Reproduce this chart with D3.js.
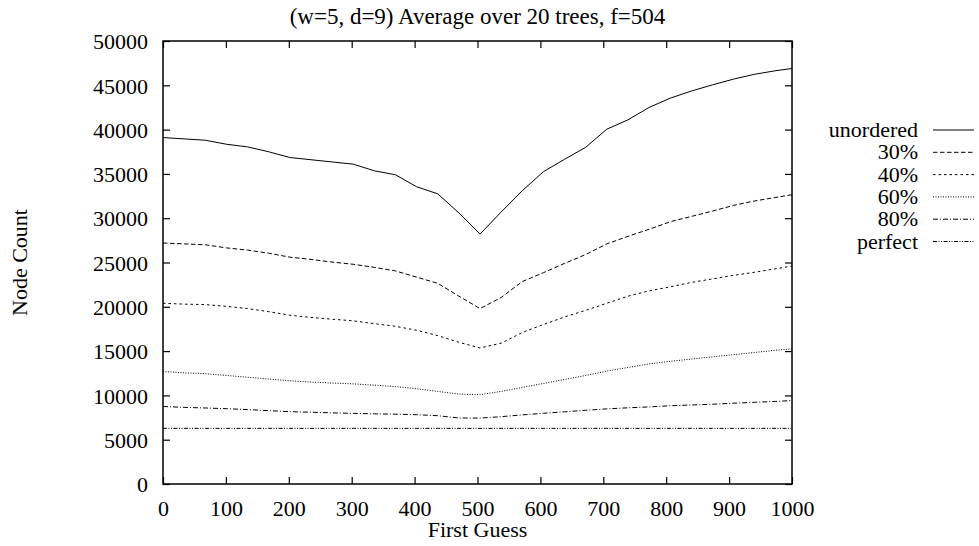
<!DOCTYPE html>
<html><head><meta charset="utf-8">
<script src="https://cdn.jsdelivr.net/npm/d3@7"></script>
<style>
body{margin:0;background:#fff}
text{font-family:"Liberation Serif","Times New Roman",serif;fill:#000}
</style>
</head><body>
<svg id="chart" width="979" height="546"></svg>
<script>
// ---- data ----
const firstGuess = [0, 33.6, 67.2, 100.8, 134.4, 168, 201.6, 235.2, 268.8, 302.4, 336, 369.6, 403.2, 436.8, 470.4, 504,
  537.6, 571.2, 604.8, 638.4, 672, 705.6, 739.2, 772.8, 806.4, 840, 873.6, 907.2, 940.8, 974.4, 1000];
const unordered = [39100, 38950, 38800, 38350, 38050, 37500, 36850, 36600, 36350, 36100, 35350, 34900, 33550, 32750, 30600, 28200,
  30700, 33100, 35250, 36650, 38000, 40050, 41100, 42500, 43550, 44350, 45050, 45700, 46250, 46650, 46900];
const pct30 = [27200, 27100, 27000, 26650, 26400, 26050, 25600, 25350, 25050, 24800, 24450, 24050, 23350, 22650, 21200, 19800,
  21050, 22850, 23850, 24900, 25900, 27100, 27950, 28750, 29600, 30200, 30800, 31450, 31950, 32350, 32650];
const pct40 = [20400, 20300, 20250, 20050, 19800, 19450, 19050, 18800, 18600, 18420, 18100, 17800, 17350, 16750, 16000, 15350,
  15900, 17100, 18000, 18850, 19600, 20400, 21200, 21800, 22250, 22750, 23150, 23550, 23900, 24300, 24600];
const pct60 = [12700, 12550, 12450, 12250, 12050, 11850, 11650, 11500, 11400, 11300, 11150, 11000, 10750, 10450, 10150, 10080,
  10450, 10900, 11350, 11800, 12250, 12750, 13150, 13550, 13850, 14100, 14350, 14600, 14850, 15100, 15250];
const pct80 = [8750, 8650, 8580, 8500, 8400, 8280, 8160, 8100, 8030, 7970, 7920, 7880, 7820, 7710, 7450, 7440,
  7600, 7800, 7980, 8150, 8320, 8480, 8600, 8700, 8830, 8920, 9000, 9120, 9220, 9320, 9420];
const perfect = [6280, 6280, 6280, 6280, 6280, 6280, 6280, 6280, 6280, 6280, 6280, 6280, 6280, 6280, 6280, 6280,
  6280, 6280, 6280, 6280, 6280, 6280, 6280, 6280, 6280, 6280, 6280, 6280, 6280, 6280, 6280];
const seriesNames = ["unordered", "30%", "40%", "60%", "80%", "perfect"];
const seriesValues = [unordered, pct30, pct40, pct60, pct80, perfect];
const xTicks = [0, 100, 200, 300, 400, 500, 600, 700, 800, 900, 1000];
const yTicks = [0, 5000, 10000, 15000, 20000, 25000, 30000, 35000, 40000, 45000, 50000];
const titleText = "(w=5, d=9) Average over 20 trees, f=504";
const xTitle = "First Guess";
const yTitle = "Node Count";

// ---- styles ----
const dashes = ["none", "4.5,2.5", "2.5,3", "1,1.5", "5,2,1,2", "4,1.5,1,1.5,1,1.5"];
const FS = 22;
const m = {left: 163, right: 792, top: 41, bottom: 484};

const svg = d3.select("#chart");
const x = d3.scaleLinear().domain([0, 1000]).range([m.left, m.right]);
const y = d3.scaleLinear().domain([0, 50000]).range([m.bottom, m.top]);

// axes with inward ticks
const gb = svg.append("g").attr("transform", `translate(0,${m.bottom})`)
  .call(d3.axisBottom(x).tickValues(xTicks).tickSize(-7).tickPadding(16.5).tickFormat(d3.format("d")));
const gt = svg.append("g").attr("transform", `translate(0,${m.top})`)
  .call(d3.axisTop(x).tickValues(xTicks).tickSize(-7).tickFormat(""));
const gl = svg.append("g").attr("transform", `translate(${m.left},0)`)
  .call(d3.axisLeft(y).tickValues(yTicks).tickSize(-7).tickPadding(15).tickFormat(d3.format("d")));
const gr = svg.append("g").attr("transform", `translate(${m.right},0)`)
  .call(d3.axisRight(y).tickValues(yTicks).tickSize(-7).tickFormat(""));
[gb, gt, gl, gr].forEach(g => {
  g.select(".domain").remove();
  g.selectAll(".tick line").attr("stroke", "#000").attr("stroke-width", 1.2);
  g.selectAll("text").attr("font-size", FS).attr("font-family", "Liberation Serif, Times New Roman, serif");
});
gl.selectAll("text").attr("dy", "0.35em");

// frame
svg.append("rect").attr("x", m.left).attr("y", m.top)
  .attr("width", m.right - m.left).attr("height", m.bottom - m.top)
  .attr("fill", "none").attr("stroke", "#000").attr("stroke-width", 1.5);

// lines
const line = d3.line().x((d, i) => x(firstGuess[i])).y(d => y(d));
seriesValues.forEach((vals, k) => {
  svg.append("path").datum(vals).attr("d", line)
    .attr("fill", "none").attr("stroke", "#000").attr("stroke-width", 1)
    .attr("stroke-dasharray", dashes[k]);
});

// titles
svg.append("text").attr("x", (m.left + m.right) / 2).attr("y", 24)
  .attr("text-anchor", "middle").attr("font-size", 23).text(titleText);
svg.append("text").attr("x", (m.left + m.right) / 2).attr("y", 537)
  .attr("text-anchor", "middle").attr("font-size", FS).text(xTitle);
svg.append("text").attr("transform", `translate(27,${(m.top + m.bottom) / 2}) rotate(-90)`)
  .attr("text-anchor", "middle").attr("font-size", FS).text(yTitle);

// legend
const lg = svg.append("g");
seriesNames.forEach((name, k) => {
  const yy = 130 + k * 22.3;
  lg.append("text").attr("x", 918).attr("y", yy).attr("dy", "0.32em")
    .attr("text-anchor", "end").attr("font-size", FS).text(name);
  lg.append("line").attr("x1", 933).attr("x2", 974).attr("y1", yy).attr("y2", yy)
    .attr("stroke", "#000").attr("stroke-width", 1).attr("stroke-dasharray", dashes[k]);
});
</script>
</body></html>
